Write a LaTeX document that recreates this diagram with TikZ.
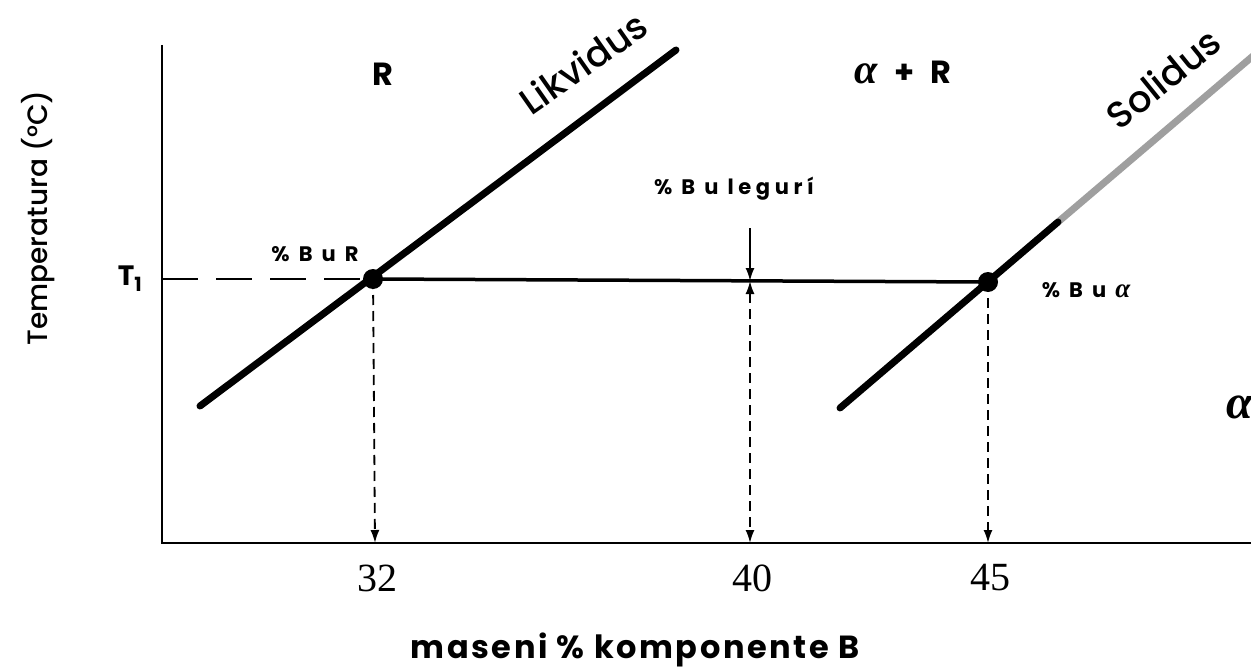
\documentclass[tikz,border=0pt]{standalone}
\usepackage{fontspec}
\setmainfont{Poppins}[UprightFont=*-Regular, BoldFont=*-Bold, ItalicFont=*-Italic, BoldItalicFont=*-BoldItalic]
\newfontfamily\medfont{Poppins-Medium}
\newfontfamily\numfont{Liberation Serif}
\newcommand{\galpha}{{\numfont\bfseries\itshape α}}
\usetikzlibrary{arrows.meta}
\tikzset{
  axisline/.style={line width=2.6pt},
  curveline/.style={line width=7pt},
  tieline/.style={line width=3.5pt},
  tip/.style={-{Latex[length=13pt,width=9pt]}},
  dropline/.style={line width=1.8pt, dash pattern=on 10pt off 6pt, tip},
  lbl/.style={inner sep=0pt},
  small/.style={lbl, font=\fontsize{21}{24}\selectfont\bfseries\addfontfeatures{LetterSpace=22}},
  big/.style={lbl, font=\fontsize{37}{40}\selectfont\medfont},
  num/.style={lbl, font=\fontsize{40}{44}\selectfont\numfont},
}
\begin{document}
\begin{tikzpicture}[x=1pt,y=-1pt]
\useasboundingbox (0,0) rectangle (1251,669);
% axes
\coordinate (O) at (162,543);
\coordinate (ytop) at (162,45);
\coordinate (xend) at (1251,543);
\draw[axisline] (ytop) -- (O) -- (xend);
% key points
\coordinate (pL) at (373,279);
\coordinate (pS) at (988,282);
\coordinate (t1) at (162,279);
\coordinate (liqA) at (200,406);
\coordinate (liqB) at (676,50);
\coordinate (solA) at (840,408);
\coordinate (solM) at (1058,222);
\coordinate (solB) at (1260,50);
\coordinate (a32) at (375,543);
\coordinate (a40) at (750,543);
\coordinate (a45) at (988,543);
\coordinate (m40) at (750,281);
\coordinate (t40) at (750,228);
% lines
\draw[line width=1.8pt, dash pattern=on 36pt off 18pt] (t1) -- (pL);
\draw[tieline] (pL) -- (pS);
\draw[curveline, line cap=round] (liqA) -- (liqB);
\draw[line width=7pt, gray!75] (solM) -- (solB);
\draw[curveline, line cap=round] (solA) -- (solM);
\fill (pL) circle (10pt);
\fill (pS) circle (10pt);
\draw[dropline] (pL) -- (a32);
\draw[dropline] (pS) -- (a45);
\draw[line width=1.8pt, tip] (t40) -- (m40);
\draw[dropline, {Latex[length=13pt,width=9pt]}-{Latex[length=13pt,width=9pt]}] (m40) -- (a40);
% labels
\node[lbl, font=\fontsize{28}{32}\selectfont\bfseries] (T1) at (130,279) {T\textsubscript{1}};
\node[lbl, font=\fontsize{28}{30}\selectfont\medfont, rotate=90] (ylab) at (38,218) {Temperatura (°C)};
\node[lbl, font=\fontsize{32}{36}\selectfont\bfseries\addfontfeatures{LetterSpace=8}] (xlab) at (635,650) {maseni \% komponente B};
\node[num] (n32) at (377,578) {32};
\node[num] (n40) at (752,578) {40};
\node[num] (n45) at (990,578) {45};
\node[lbl, font=\fontsize{32}{36}\selectfont\bfseries] (R) at (383,74) {R};
\node[lbl, font=\fontsize{32}{36}\selectfont\bfseries] (aR) at (903,72) {{\fontsize{42}{44}\selectfont\galpha}\hspace{0.5em}+\hspace{0.5em}R};
\node[big, rotate=35] (liq) at (583,63) {Likvidus};
\node[big, rotate=39] (sol) at (1163,78) {Solidus};
\node[small] (BR) at (315,254) {\% B u R};
\node[small] (Bleg) at (734,189) {\% B u legurí};
\node[small] (Ba) at (1086,290) {\% B u {\fontsize{27}{28}\selectfont\galpha}};
\node[lbl, font=\fontsize{48}{52}\selectfont, anchor=west] (al) at (1226,407) {\galpha};
\end{tikzpicture}
\end{document}
